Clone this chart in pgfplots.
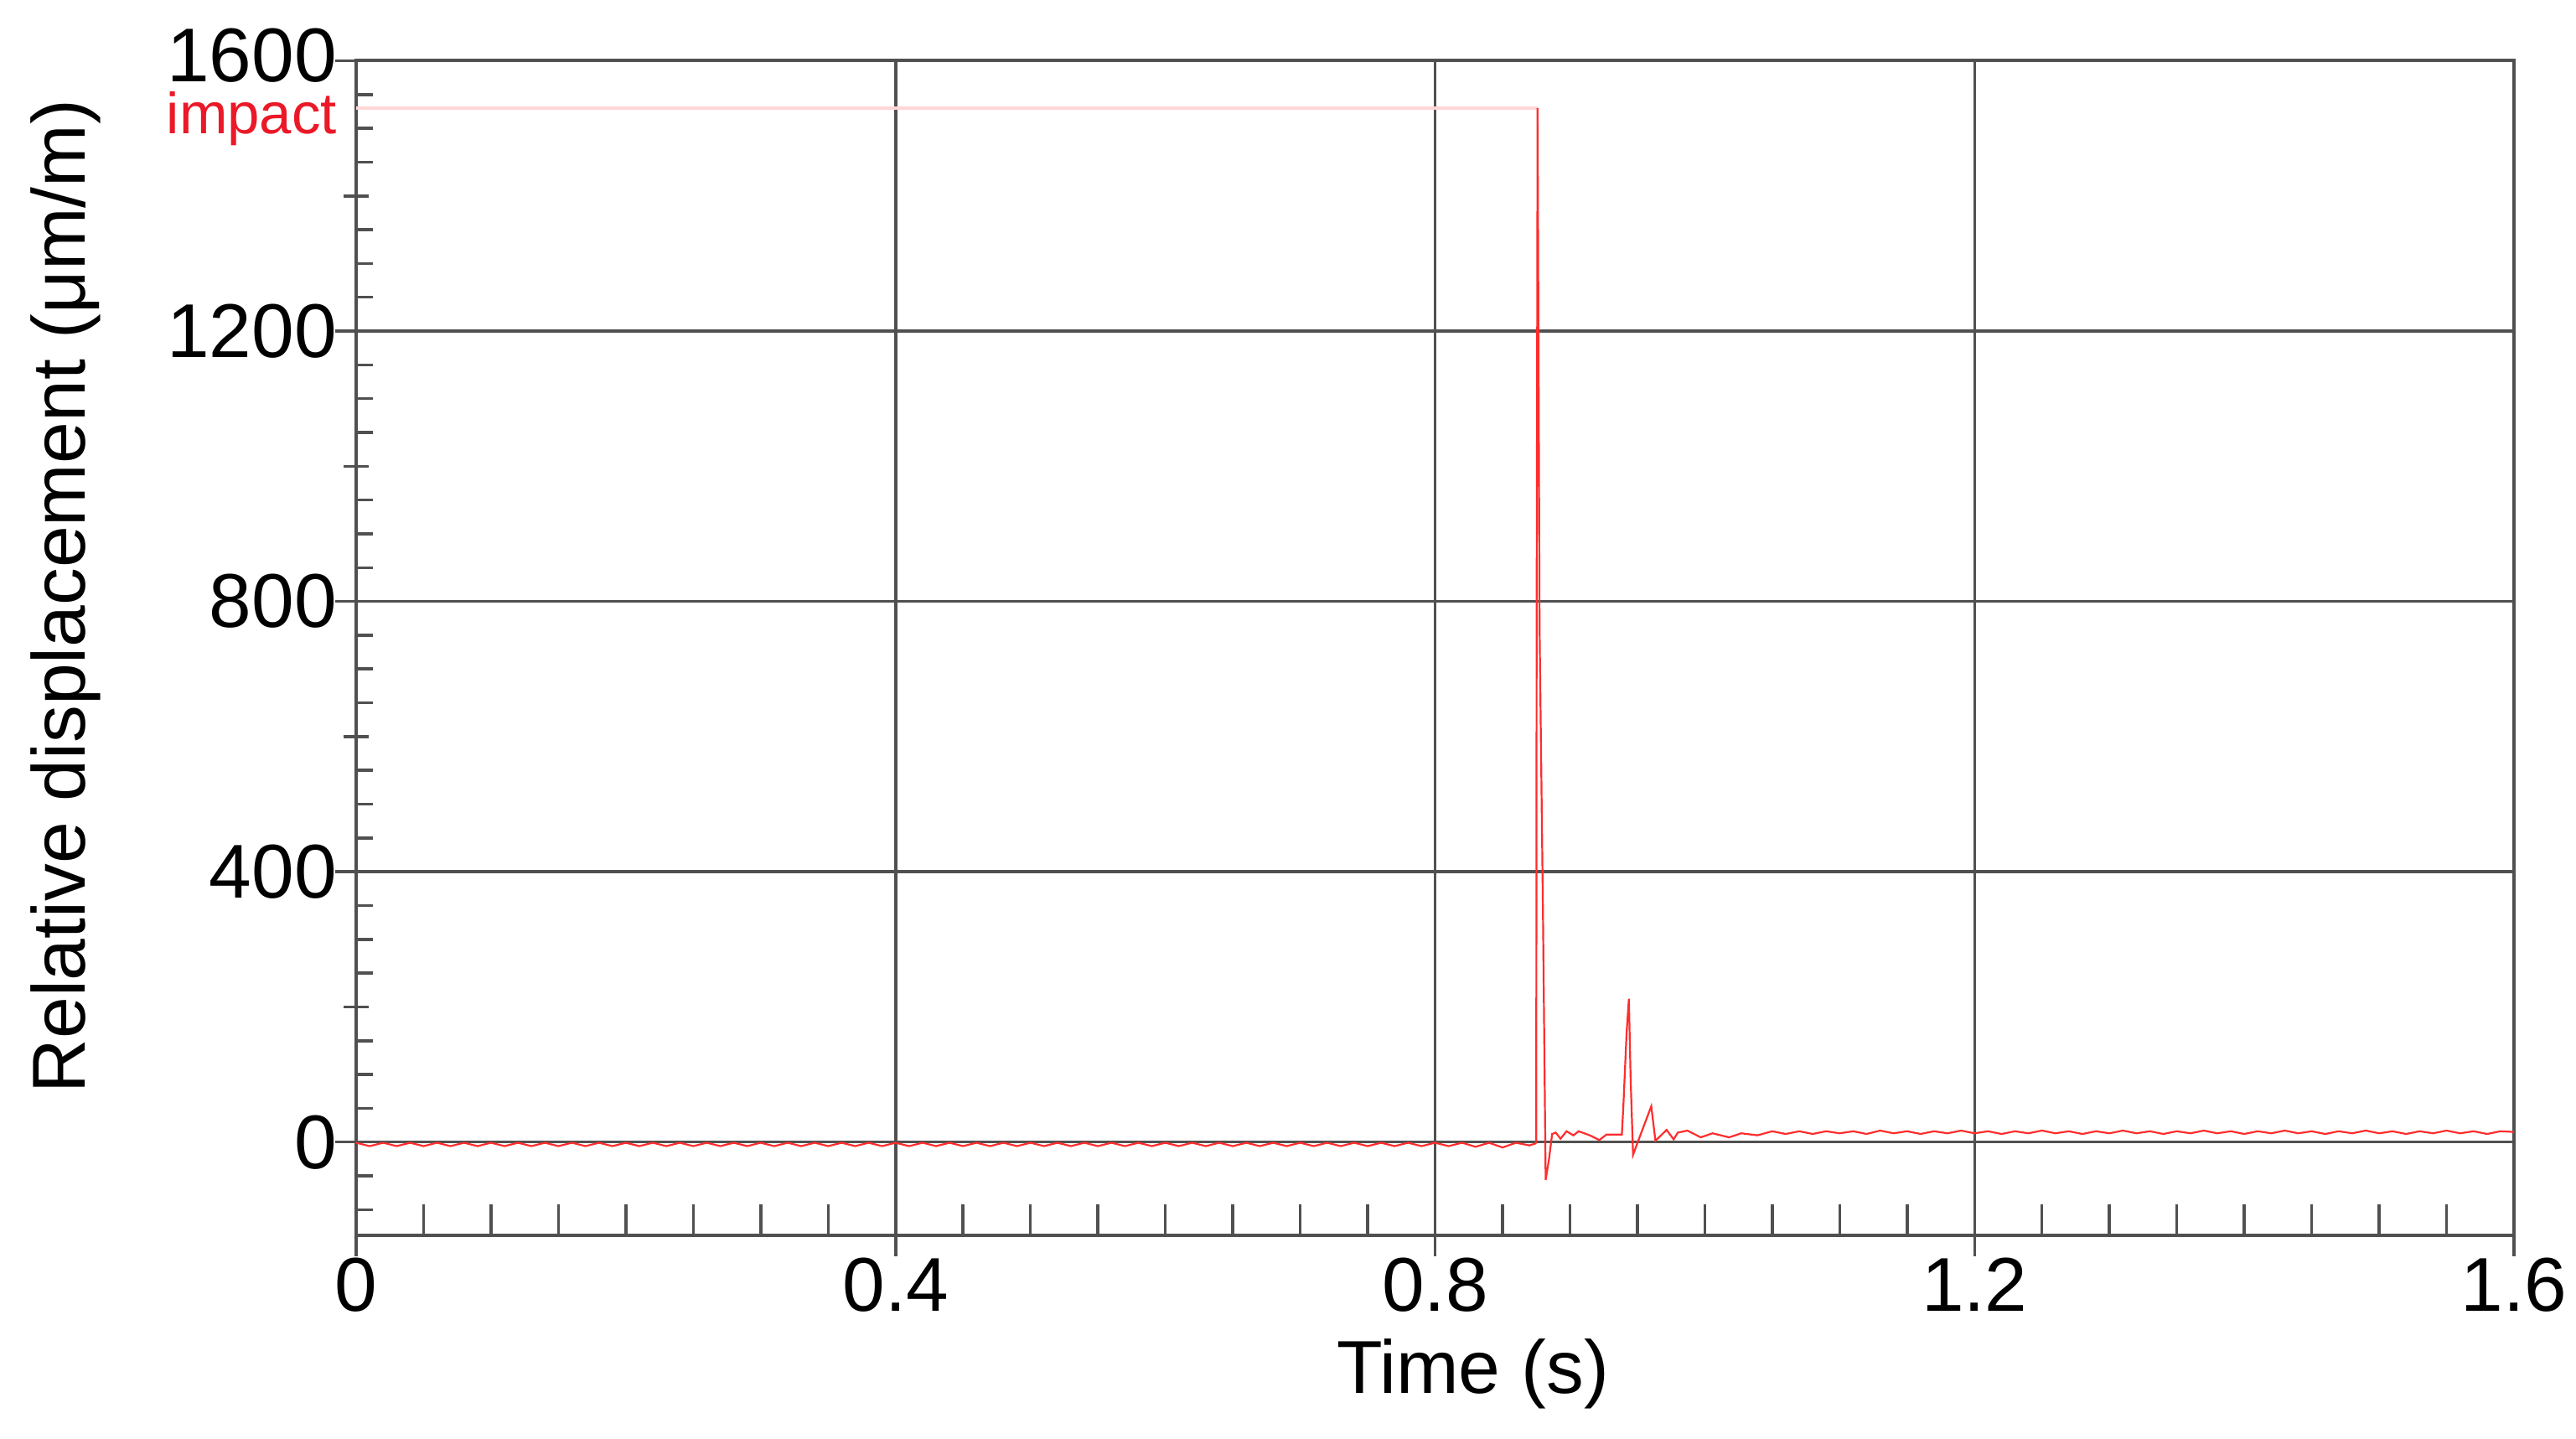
\documentclass[border=0pt]{standalone}
\usepackage{fontspec}
\setmainfont{Liberation Sans}
\usepackage{pgfplots}
\pgfplotsset{compat=1.18}
\definecolor{gridc}{RGB}{80,80,80}
\definecolor{sig}{RGB}{255,45,45}
\definecolor{imp}{RGB}{255,215,215}
\definecolor{imptxt}{RGB}{235,25,40}
\begin{document}
\begin{tikzpicture}
\path[use as bounding box] (0,0) rectangle (307.4bp,171.7bp);
\begin{axis}[
  at={(42.5bp,24.3bp)}, anchor=south west,
  scale only axis, width=257.5bp, height=140.15bp,
  xmin=0, xmax=1.6, ymin=-138, ymax=1600,
  clip=false,
  axis line style={gridc, line width=0.4bp},
  xtick={0,0.4,0.8,1.2,1.6},
  xticklabels={0,0.4,0.8,1.2,1.6},
  ytick={0,400,800,1200,1600},
  yticklabels={0,400,800,1200,\raisebox{1.3bp}{1600}},
  minor ytick={200,600,1000,1400},
  xtick pos=bottom, ytick pos=left,
  tick align=center, major tick length=5bp, minor tick length=3bp,
  tick style={gridc, line width=0.35bp},
  grid=major,
  major grid style={gridc, line width=0.35bp},
  minor grid style={draw=none},
  extra x ticks={0.05,0.1,0.15,0.2,0.25,0.3,0.35,0.45,0.5,0.55,0.6,0.65,0.7,0.75,0.85,0.9,0.95,1.0,1.05,1.1,1.15,1.25,1.3,1.35,1.4,1.45,1.5,1.55},
  extra x tick labels={},
  extra x tick style={grid=none, tick align=inside, major tick length=3.7bp},
  extra y ticks={-100,-50,50,100,150,250,300,350,450,500,550,650,700,750,850,900,950,1050,1100,1150,1250,1300,1350,1450,1500,1550},
  extra y tick labels={},
  extra y tick style={grid=none, tick align=inside, major tick length=2bp},
  tick label style={font=\fontsize{9.1bp}{10bp}\selectfont},
  xticklabel style={yshift=3.3bp},
  yticklabel style={xshift=3.7bp},
  xlabel={Time (s)},
  ylabel={Relative displacement (μm/m)},
  label style={font=\fontsize{8.95bp}{10bp}\selectfont},
  xlabel style={at={(axis description cs:0.5175,-0.1177)}, anchor=center},
  ylabel style={at={(axis description cs:-0.1348,0.544)}, anchor=center},
]
% impact marker line
\addplot[imp, line width=0.35bp] coordinates {(0,1530) (0.8760,1530)};
\node[imptxt, anchor=mid east, inner sep=0pt, font=\fontsize{6.9bp}{8bp}\selectfont] at (axis cs:0,1530) [xshift=-2.1bp, yshift=-0.4bp] {impact};
% signal
\addplot[sig, line width=0.22bp] coordinates {
(0,-1)(0.01,-6)(0.02,-1)(0.03,-6)(0.04,-1)(0.05,-6)(0.06,-1)(0.07,-6)(0.08,-1)(0.09,-6)
(0.10,-1)(0.11,-6)(0.12,-1)(0.13,-6)(0.14,-1)(0.15,-6)(0.16,-1)(0.17,-6)(0.18,-1)(0.19,-6)
(0.20,-1)(0.21,-6)(0.22,-1)(0.23,-6)(0.24,-1)(0.25,-6)(0.26,-1)(0.27,-6)(0.28,-1)(0.29,-6)
(0.30,-1)(0.31,-6)(0.32,-1)(0.33,-6)(0.34,-1)(0.35,-6)(0.36,-1)(0.37,-6)(0.38,-1)(0.39,-6)
(0.40,-1)(0.41,-6)(0.42,-1)(0.43,-6)(0.44,-1)(0.45,-6)(0.46,-1)(0.47,-6)(0.48,-1)(0.49,-6)
(0.50,-1)(0.51,-6)(0.52,-1)(0.53,-6)(0.54,-1)(0.55,-6)(0.56,-1)(0.57,-6)(0.58,-1)(0.59,-6)
(0.60,-1)(0.61,-6)(0.62,-1)(0.63,-6)(0.64,-1)(0.65,-6)(0.66,-1)(0.67,-6)(0.68,-1)(0.69,-6)
(0.70,-1)(0.71,-6)(0.72,-1)(0.73,-6)(0.74,-1)(0.75,-6)(0.76,-1)(0.77,-6)(0.78,-1)(0.79,-6)
(0.80,-1)(0.81,-6)(0.82,-1)(0.83,-7)(0.84,-1)(0.85,-8)(0.86,-1)(0.87,-5)
(0.8745,-2)(0.8750,0)(0.8753,760)(0.8760,1530)(0.8768,1130)(0.8775,760)(0.8800,340)
(0.8820,-56)(0.8845,-25)(0.8868,12)(0.8895,14)(0.8930,5)(0.8975,16)(0.9025,10)(0.9065,16)
(0.9147,10)(0.9218,3)(0.9270,11)(0.9385,11)(0.9396,53)(0.9420,161)(0.9437,212)(0.9450,94)
(0.9468,-19)(0.9499,-2)(0.9603,53)(0.9634,2)(0.9717,18)(0.9769,4)(0.9800,14)(0.9871,17)
(0.9970,7)(1.0057,13)(1.018,7)(1.027,13)(1.039,10)
(1.05,16)(1.06,12)(1.07,16)(1.08,12)(1.09,16)(1.10,13)(1.11,16)(1.12,12)(1.13,17)(1.14,13)
(1.15,16)(1.16,12)(1.17,16)(1.18,13)(1.19,17)(1.20,13)(1.21,16)(1.22,12)(1.23,16)(1.24,13)
(1.25,17)(1.26,13)(1.27,16)(1.28,12)(1.29,16)(1.30,13)(1.31,17)(1.32,13)(1.33,16)(1.34,12)
(1.35,16)(1.36,13)(1.37,17)(1.38,13)(1.39,16)(1.40,12)(1.41,16)(1.42,13)(1.43,17)(1.44,13)
(1.45,16)(1.46,12)(1.47,16)(1.48,13)(1.49,17)(1.50,13)(1.51,16)(1.52,12)(1.53,16)(1.54,13)
(1.55,17)(1.56,13)(1.57,16)(1.58,12)(1.59,16)(1.60,15)
};
\end{axis}
\end{tikzpicture}
\end{document}
